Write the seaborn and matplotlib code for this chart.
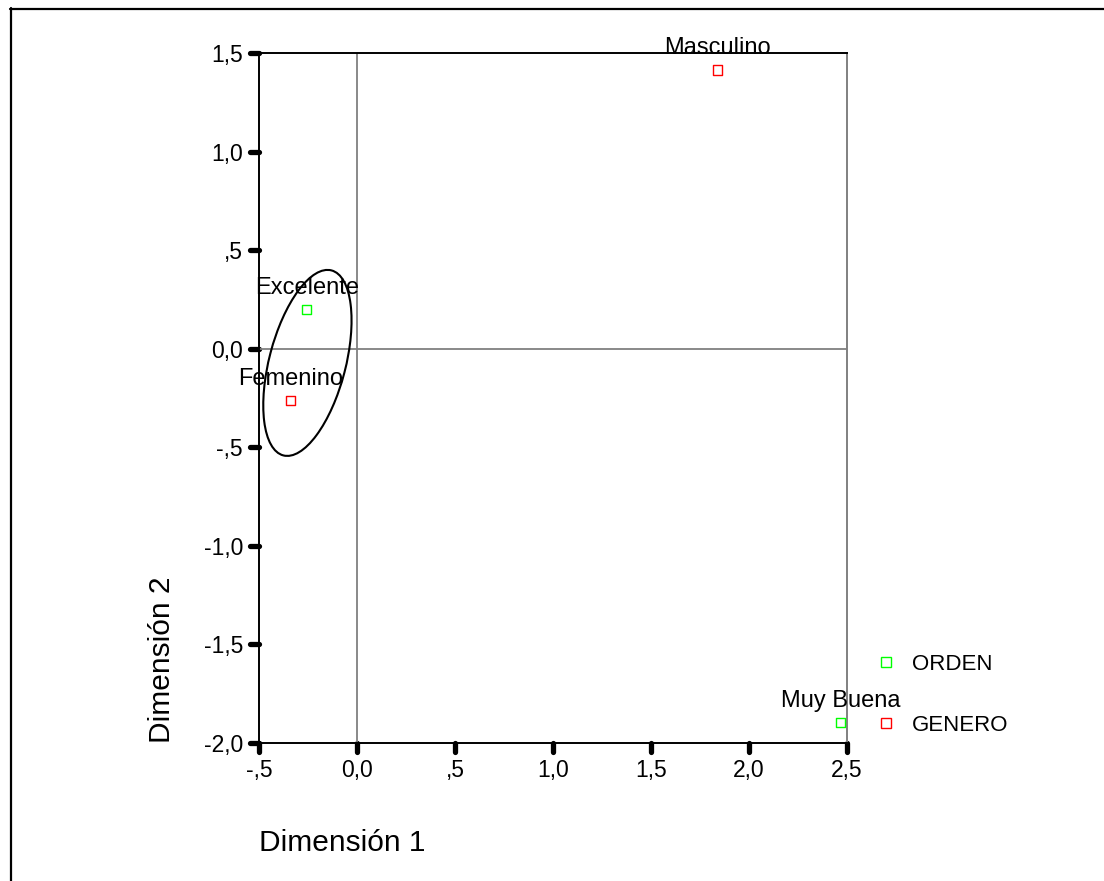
import matplotlib
matplotlib.use("Agg")
import matplotlib.pyplot as plt
import matplotlib.lines as mlines
from matplotlib.markers import MarkerStyle
from matplotlib.patches import Ellipse
import seaborn as sns
import pandas as pd

# ---- data ----
categorias = ["Masculino", "Femenino", "Excelente", "Muy Buena"]
variables = ["GENERO", "GENERO", "ORDEN", "ORDEN"]
dim1 = [1.839, -0.338, -0.257, 2.466]
dim2 = [1.414, -0.264, 0.198, -1.896]
grupos = ["ORDEN", "GENERO"]
colores = {"ORDEN": "#00ff00", "GENERO": "#ff0000"}
xticks = [-0.5, 0.0, 0.5, 1.0, 1.5, 2.0, 2.5]
xticklabels = ["-,5", "0,0", ",5", "1,0", "1,5", "2,0", "2,5"]
yticks = [1.5, 1.0, 0.5, 0.0, -0.5, -1.0, -1.5, -2.0]
yticklabels = ["1,5", "1,0", ",5", "0,0", "-,5", "-1,0", "-1,5", "-2,0"]
# ellipse annotation (center, diameters, angle)
elipse_centro = (-0.253, -0.072)
elipse_ancho, elipse_alto, elipse_angulo = 0.97, 0.39, 75.3

df = pd.DataFrame({"Categoria": categorias, "Variable": variables,
                   "Dimensión 1": dim1, "Dimensión 2": dim2})

sns.set_theme(style="white")
plt.rcParams["font.family"] = ["Liberation Sans", "DejaVu Sans"]
plt.rcParams["text.color"] = "black"

W, H = 1104, 881
fig = plt.figure(figsize=(W / 100, H / 100), dpi=100)
fig.patch.set_facecolor("white")
ax = fig.add_axes([259 / W, 1 - 743 / H, 588 / W, 690 / H])
ax.set_facecolor("white")

ax.axhline(0, color="#808080", lw=1.3, zorder=1)
ax.axvline(0, color="#808080", lw=1.3, zorder=1)

sns.scatterplot(data=df, x="Dimensión 1", y="Dimensión 2", hue="Variable",
                hue_order=grupos, palette=colores, marker="s", s=44,
                linewidth=1.0, legend=False, ax=ax, zorder=3, clip_on=False)
coll = ax.collections[-1]
fc = coll.get_facecolors()
coll.set_edgecolors(fc)
coll.set_facecolors("none")

for cat, x, y in zip(categorias, dim1, dim2):
    ax.annotate(cat, (x, y), xytext=(0, 11.5), textcoords="offset points",
                ha="center", va="baseline", fontsize=17, color="black")

ax.add_patch(Ellipse(elipse_centro, elipse_ancho, elipse_alto, angle=elipse_angulo,
                     fill=False, edgecolor="black", lw=1.5, zorder=2))

ax.set_xlim(-0.5, 2.5)
ax.set_ylim(-2.0, 1.5)
ax.set_xticks(xticks)
ax.set_xticklabels(xticklabels)
ax.set_yticks(yticks)
ax.set_yticklabels(yticklabels)
ax.tick_params(axis="both", which="major", direction="out", length=6.5,
               width=3.8, color="black", labelsize=16.5, pad=5,
               left=True, bottom=True, top=False, right=False,
               labelcolor="black")

for t in ax.xaxis.get_major_ticks():
    t.tick1line.set_marker(MarkerStyle(mlines.TICKDOWN, capstyle="round"))
for t in ax.yaxis.get_major_ticks():
    t.tick1line.set_marker(MarkerStyle(mlines.TICKLEFT, capstyle="round"))

for side in ["left", "bottom", "top"]:
    ax.spines[side].set_color("black")
    ax.spines[side].set_linewidth(1.4)
ax.spines["right"].set_color("#808080")
ax.spines["right"].set_linewidth(1.4)
for s in ax.spines.values():
    s.set_visible(True)

ax.set_xlabel("Dimensión 1", loc="left", fontsize=21.5, color="black")
ax.xaxis.set_label_coords(0, -0.1246)
ax.set_ylabel("Dimensión 2", loc="bottom", fontsize=21.5, color="black")
ax.yaxis.set_label_coords((176 - 259) / 588, 0)

handles = [mlines.Line2D([], [], marker="s", ls="", mfc="none",
                         mec=colores[g], ms=6.5, mew=1.0) for g in grupos]
fig.legend(handles, grupos, loc="center left",
           bbox_to_anchor=(875 / W, 1 - 695 / H), frameon=False,
           borderpad=0, borderaxespad=0, handlelength=1.0,
           handletextpad=0.68, labelspacing=1.8, fontsize=16,
           labelcolor="black")

# outer frame (only left and top edges visible)
fig.add_artist(mlines.Line2D([10.5 / W, 10.5 / W], [0, 1 - 8 / H],
                             transform=fig.transFigure, color="black", lw=1.6))
fig.add_artist(mlines.Line2D([10 / W, 1], [1 - 9 / H, 1 - 9 / H],
                             transform=fig.transFigure, color="black", lw=1.6))

fig.savefig("out.png", dpi=100)
